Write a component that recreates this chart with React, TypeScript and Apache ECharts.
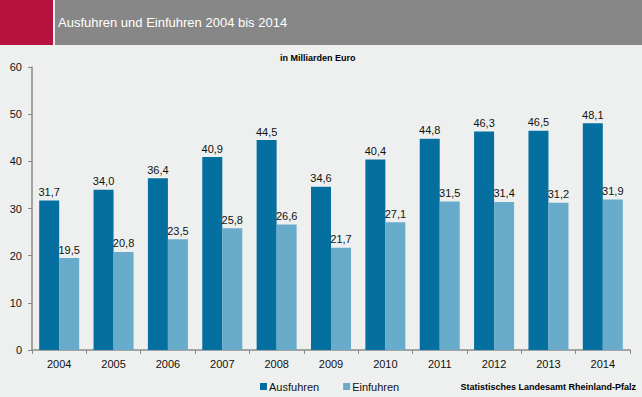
import React, { useEffect, useRef } from "react";
import * as echarts from "echarts";

const years = ["2004", "2005", "2006", "2007", "2008", "2009", "2010", "2011", "2012", "2013", "2014"];
const ausfuhren = [31.7, 34.0, 36.4, 40.9, 44.5, 34.6, 40.4, 44.8, 46.3, 46.5, 48.1];
const einfuhren = [19.5, 20.8, 23.5, 25.8, 26.6, 21.7, 27.1, 31.5, 31.4, 31.2, 31.9];
const seriesNames = ["Ausfuhren", "Einfuhren"];
const colors = ["#0570a0", "#68abca"];

const FONT = "'Liberation Sans', Arial, sans-serif";

export default function App() {
  const ref = useRef<HTMLDivElement>(null);
  useEffect(() => {
    if (!ref.current) return;
    const chart = echarts.init(ref.current, undefined, { renderer: "svg" });
    const label = {
      show: true,
      position: "top" as const,
      distance: 3,
      color: "#111",
      fontSize: 11,
      fontFamily: FONT,
      formatter: (p: any) => p.value.toFixed(1).replace(".", ","),
    };
    chart.setOption({
      animation: false,
      backgroundColor: "#eef0ef",
      textStyle: { fontFamily: FONT },
      graphic: [
        { type: "rect", left: 0, top: 0, shape: { width: 53, height: 45 }, style: { fill: "#b5123f" } },
        { type: "rect", left: 55, top: 0, shape: { width: 587, height: 45 }, style: { fill: "#878787" } },
        { type: "rect", left: 53, top: 0, shape: { width: 2, height: 45 }, style: { fill: "#eef0ef" } },
        {
          type: "text",
          left: 58,
          top: 16,
          style: { text: "Ausfuhren und Einfuhren 2004 bis 2014", fill: "#ffffff", fontSize: 13, fontFamily: FONT },
        },
        {
          type: "text",
          left: 280,
          top: 53,
          style: { text: "in Milliarden Euro", fill: "#000", fontSize: 9, fontWeight: "bold", fontFamily: FONT },
        },
        {
          type: "text",
          right: 6,
          top: 382,
          style: {
            text: "Statistisches Landesamt Rheinland-Pfalz",
            fill: "#000",
            fontSize: 9,
            fontWeight: "bold",
            fontFamily: FONT,
          },
        },
      ],
      legend: {
        data: seriesNames,
        left: 255,
        top: 376,
        itemWidth: 7,
        itemHeight: 7,
        itemGap: 24,
        icon: "rect",
        textStyle: { fontSize: 11, color: "#111", fontFamily: FONT, padding: [0, 0, 0, -3] },
      },
      grid: { left: 32, right: 12, top: 67, bottom: 47, containLabel: false },
      xAxis: {
        type: "category",
        data: years,
        axisLine: { lineStyle: { color: "#8a8a8a", width: 1.5 } },
        axisTick: { show: true, length: 4, lineStyle: { color: "#8a8a8a" } },
        axisLabel: { color: "#111", fontSize: 11, margin: 8, fontFamily: FONT },
      },
      yAxis: {
        type: "value",
        min: 0,
        max: 60,
        interval: 10,
        axisLine: { show: true, lineStyle: { color: "#8a8a8a", width: 1.5 } },
        axisTick: { show: true, length: 4, lineStyle: { color: "#8a8a8a" } },
        splitLine: { show: false },
        axisLabel: { color: "#111", fontSize: 11, margin: 10, fontFamily: FONT },
      },
      series: [
        {
          name: seriesNames[0],
          type: "bar",
          data: ausfuhren,
          barWidth: 20,
          barGap: "0%",
          itemStyle: { color: colors[0] },
          label,
        },
        {
          name: seriesNames[1],
          type: "bar",
          data: einfuhren,
          barWidth: 20,
          barGap: "0%",
          itemStyle: { color: colors[1] },
          label,
        },
      ],
    });
    return () => chart.dispose();
  }, []);
  return <div ref={ref} style={{ position: "fixed", left: 0, top: 0, width: 642, height: 397 }} />;
}
